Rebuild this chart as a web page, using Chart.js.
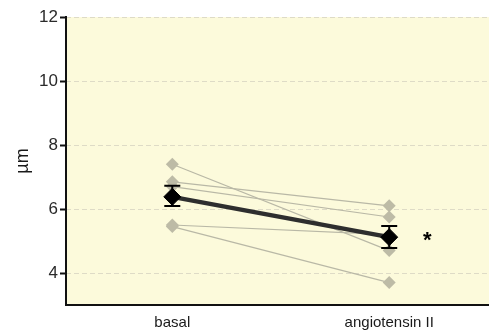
<!DOCTYPE html>
<html>
<head>
<meta charset="utf-8">
<script src="https://cdn.jsdelivr.net/npm/chart.js@4/dist/chart.umd.min.js"></script>
<style>
  html, body { margin: 0; padding: 0; overflow: hidden; background: #fff; }
  #wrap { width: 489px; height: 333px; }
  canvas { display: block; }
</style>
</head>
<body>
<div id="wrap"><canvas id="chart" width="489" height="333"></canvas></div>
<script>
// categorias e valores
const categories = ['basal', 'angiotensin II'];
const basalValues = [7.4, 6.85, 6.7, 5.5, 5.45];
const angioValues = [4.7, 6.1, 5.75, 5.2, 3.7];
const meanValues = [6.38, 5.12];
const errLow = [6.09, 4.78];
const errHigh = [6.73, 5.47];
const yTicks = [4, 6, 8, 10, 12];

// uma linha cinza por sujeito
const subjectSets = basalValues.map(function(b, i) {
    return {
        data: [{ x: 0, y: b }, { x: 1, y: angioValues[i] }],
        borderColor: '#b9b8a6',
        borderWidth: 1.2,
        pointStyle: 'rectRot',
        pointRadius: 6.5,
        pointBackgroundColor: '#bdbba6',
        pointBorderColor: '#bdbba6',
        pointBorderWidth: 0,
        order: 1
    };
});

// média por cima de tudo
const meanSet = {
    data: meanValues.map(function(v, i) { return { x: i, y: v }; }),
    borderColor: '#2e2e2e',
    borderWidth: 4.5,
    pointStyle: 'rectRot',
    pointRadius: 8.5,
    pointBackgroundColor: '#000',
    pointBorderColor: '#000',
    pointBorderWidth: 1,
    order: 0
};

// fundo amarelo e grade tracejada
const backgroundPlugin = {
    id: 'bg',
    beforeDraw(chart) {
        const { ctx, chartArea: a, scales } = chart;
        ctx.save();
        ctx.fillStyle = '#fcfadb';
        ctx.fillRect(a.left, a.top, a.right - a.left, a.bottom - a.top);
        ctx.strokeStyle = '#dedbc6';
        ctx.lineWidth = 1;
        ctx.setLineDash([5, 3]);
        yTicks.forEach(function(t) {
            const y = Math.round(scales.y.getPixelForValue(t)) + 0.5;
            ctx.beginPath();
            ctx.moveTo(a.left, y);
            ctx.lineTo(a.right, y);
            ctx.stroke();
        });
        ctx.restore();
    }
};

// barras de erro e asterisco
const errorPlugin = {
    id: 'errbars',
    afterDatasetsDraw(chart) {
        const { ctx, scales } = chart;
        ctx.save();
        ctx.strokeStyle = '#000';
        ctx.lineWidth = 2;
        meanValues.forEach(function(m, i) {
            const x = scales.x.getPixelForValue(i);
            const yl = scales.y.getPixelForValue(errLow[i]);
            const yh = scales.y.getPixelForValue(errHigh[i]);
            ctx.beginPath();
            ctx.moveTo(x, yl); ctx.lineTo(x, yh);
            ctx.moveTo(x - 8, yl); ctx.lineTo(x + 8, yl);
            ctx.moveTo(x - 8, yh); ctx.lineTo(x + 8, yh);
            ctx.stroke();
        });
        ctx.fillStyle = '#000';
        ctx.font = 'bold 22px "Liberation Sans", Arial, sans-serif';
        ctx.textAlign = 'center';
        ctx.textBaseline = 'middle';
        ctx.fillText('*', scales.x.getPixelForValue(1) + 38, scales.y.getPixelForValue(meanValues[1]) + 4);
        ctx.restore();
    }
};

const config = {
    type: 'line',
    data: { datasets: subjectSets.concat([meanSet]) },
    options: {
        responsive: false,
        animation: false,
        layout: { autoPadding: false, padding: { top: 17, right: 0, left: 0, bottom: 0 } },
        plugins: { legend: { display: false }, tooltip: { enabled: false } },
        scales: {
            x: {
                type: 'linear',
                min: -0.49,
                max: 1.46,
                afterBuildTicks(scale) { scale.ticks = [{ value: 0 }, { value: 1 }]; },
                afterFit(scale) { scale.height = 28; },
                ticks: {
                    callback: function(v) { return categories[v]; },
                    color: '#1a1a1a',
                    font: { family: '"Liberation Sans", Arial, sans-serif', size: 15 },
                    padding: 9,
                    maxRotation: 0
                },
                grid: { display: true, drawOnChartArea: false, drawTicks: false },
                border: { color: '#111', width: 2 }
            },
            y: {
                min: 3,
                max: 12,
                afterBuildTicks(scale) { scale.ticks = yTicks.map(function(v) { return { value: v }; }); },
                afterFit(scale) { scale.width = 66; },
                ticks: {
                    color: '#2a2a2a',
                    font: { family: '"Liberation Sans", Arial, sans-serif', size: 17 },
                    padding: 2
                },
                grid: { drawOnChartArea: false, drawTicks: true, tickLength: 6, tickColor: '#111', tickWidth: 2 },
                border: { color: '#111', width: 2 },
                title: {
                    display: true,
                    text: 'µm',
                    color: '#1a1a1a',
                    font: { family: '"Liberation Sans", Arial, sans-serif', size: 18 },
                    padding: { top: 12, bottom: 0 }
                }
            }
        }
    },
    plugins: [backgroundPlugin, errorPlugin]
};

const chart = new Chart(document.getElementById('chart'), config);
</script>
</body>
</html>
